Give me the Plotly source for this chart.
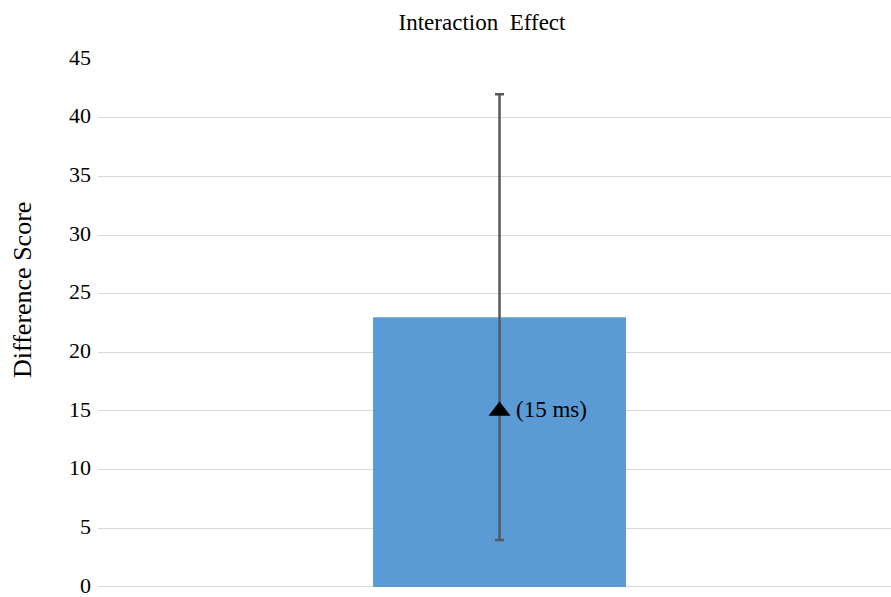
import plotly.graph_objects as go

# Data
categories = [0]
difference_score = [23]
ci_upper = [42]
ci_lower = [4]
effect_ms = [15]
y_ticks = [0, 5, 10, 15, 20, 25, 30, 35, 40, 45]

FONT = "Liberation Serif, Times New Roman, serif"
W, H = 891, 597
ML, MR, MT, MB = 98, 0, 59, 10
PW, PH = W - ML - MR, H - MT - MB

fig = go.Figure()

fig.add_trace(go.Bar(
    x=categories,
    y=difference_score,
    width=0.315,
    marker=dict(color="#5B9BD5", line=dict(width=0)),
    error_y=dict(
        type="data",
        symmetric=False,
        array=[u - v for u, v in zip(ci_upper, difference_score)],
        arrayminus=[v - l for v, l in zip(difference_score, ci_lower)],
        color="#595959",
        thickness=2.5,
        width=4.5,
    ),
    hoverinfo="skip",
))

fig.add_trace(go.Scatter(
    x=categories,
    y=effect_ms,
    mode="markers",
    marker=dict(symbol="triangle-up", size=19, color="black"),
    hoverinfo="skip",
))

for c, v in zip(categories, effect_ms):
    fig.add_annotation(
        x=c, y=v, xref="x", yref="y",
        text=f"({v} ms)",
        showarrow=False,
        xanchor="left", yanchor="middle",
        xshift=14, yshift=1,
        font=dict(family=FONT, size=23, color="black"),
    )

# Y-axis title, centred on the chart area rather than the plot area
fig.add_annotation(
    x=(22 - ML) / PW, y=(H - MB - 290) / PH, xref="paper", yref="paper",
    text="Difference Score",
    textangle=-90,
    showarrow=False,
    xanchor="center", yanchor="middle",
    font=dict(family=FONT, size=26, color="black"),
)

fig.update_layout(
    width=W, height=H,
    margin=dict(l=ML, r=MR, t=MT, b=MB, autoexpand=False),
    paper_bgcolor="white",
    plot_bgcolor="white",
    showlegend=False,
    title=dict(
        text="Interaction  Effect",
        x=482 / W, xref="container", xanchor="center",
        y=1 - 22 / H, yref="container", yanchor="middle",
        font=dict(family=FONT, size=23, color="black"),
    ),
    xaxis=dict(
        range=[-0.5, 0.4875],
        showticklabels=False, showgrid=False, zeroline=False,
        showline=False, ticks="",
    ),
    yaxis=dict(
        range=[-0.001, 45],
        tickvals=y_ticks,
        showgrid=True, gridcolor="#D9D9D9", gridwidth=1.3,
        zeroline=True, zerolinecolor="#D9D9D9", zerolinewidth=1.3,
        showline=False, ticks="",
        ticklabelstandoff=6,
        ticklabelshift=-2,
        ticklabeloverflow="allow",
        automargin=False,
        tickfont=dict(family=FONT, size=22, color="black"),
    ),
)

fig.write_html("out.html")
